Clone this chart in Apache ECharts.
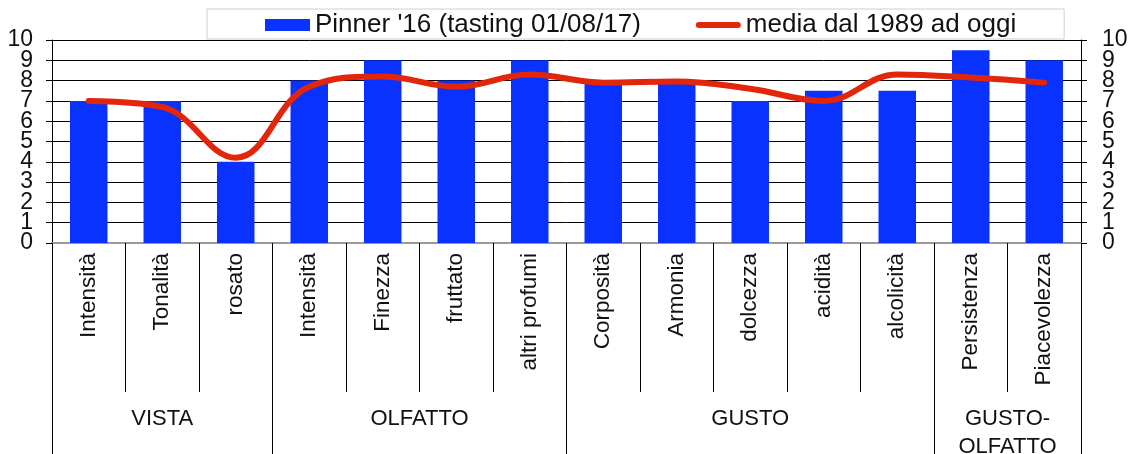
<!DOCTYPE html>
<html>
<head>
<meta charset="utf-8">
<script src="https://cdn.jsdelivr.net/npm/echarts@6/dist/echarts.min.js"></script>
<style>
  html, body { margin: 0; padding: 0; background: #fff; }
  #chart { width: 1128px; height: 454px; }
</style>
</head>
<body>
<div id="chart"></div>
<script>
const categories = ['Intensità', 'Tonalità', 'rosato', 'Intensità', 'Finezza', 'fruttato', 'altri profumi',
  'Corposità', 'Armonia', 'dolcezza', 'acidità', 'alcolicità', 'Persistenza', 'Piacevolezza'];
const groupNames = ['VISTA', 'OLFATTO', 'GUSTO', 'GUSTO-\nOLFATTO'];
const groupSizes = [3, 4, 5, 2];
const barValues = [7, 7, 4, 8, 9, 8, 9, 8, 8, 7, 7.5, 7.5, 9.5, 9];
const avgValues = [7.0, 6.7, 4.2, 7.7, 8.2, 7.7, 8.3, 7.9, 7.95, 7.6, 7.0, 8.3, 8.15, 7.9];
const yTicks = [0, 1, 2, 3, 4, 5, 6, 7, 8, 9, 10];
const barName = "Pinner '16 (tasting 01/08/17)";
const lineName = 'media dal 1989 ad oggi';

// group boundaries and centres (in category units)
const groupBounds = [0];
groupSizes.forEach(s => groupBounds.push(groupBounds[groupBounds.length - 1] + s));
const groupCenters = groupSizes.map((s, i) => groupBounds[i] + s / 2);

const FONT = 'Liberation Sans, Arial, sans-serif';
const chart = echarts.init(document.getElementById('chart'), null, { renderer: 'canvas' });

// Tick labels are split over two overlapping axes per side (even / odd values),
// so that ECharts does not drop the labels that touch each other.
function yAxisDef(side, parity, primary) {
  return {
    type: 'value', position: side,
    min: yTicks[0], max: yTicks[yTicks.length - 1], interval: 1,
    axisLine: { show: primary, lineStyle: { color: '#000', width: 1 } },
    axisTick: { show: primary, length: 6, lineStyle: { color: '#000' } },
    splitLine: { show: primary && side === 'left', lineStyle: { color: '#000', width: 1 } },
    axisLabel: {
      margin: side === 'left' ? 19 : 21,
      fontSize: 23, color: '#111', fontFamily: FONT,
      showMinLabel: true, showMaxLabel: true,
      formatter: function (v) {
        return yTicks.indexOf(v) >= 0 && Math.round(v) % 2 === parity ? String(v) : '';
      }
    }
  };
}

chart.setOption({
  animation: false,
  backgroundColor: '#fff',
  grid: { left: 52, right: 47, top: 40, bottom: 211, containLabel: false, outerBoundsMode: 'none' },
  legend: {
    left: 207, top: 9,
    padding: [3, 48, 1, 58],
    backgroundColor: '#fff',
    borderColor: '#cfcfcf', borderWidth: 1,
    itemGap: 55, itemWidth: 45, itemHeight: 12,
    textStyle: { fontSize: 26, color: '#111', fontFamily: FONT },
    data: [
      { name: barName, icon: 'rect' },
      { name: lineName, icon: 'path://M3,0 L42,0 A3,3 0 0 1 42,6 L3,6 A3,3 0 0 1 3,0 Z', itemStyle: { color: '#e2260a' } }
    ]
  },
  xAxis: [
    {
      type: 'category', data: categories, position: 'bottom',
      axisLine: { show: true, lineStyle: { color: '#000', width: 1 } },
      axisTick: { show: true, interval: 0, length: 149, lineStyle: { color: '#000' } },
      axisLabel: { interval: 0, rotate: 90, margin: 10, fontSize: 22.5, color: '#111', fontFamily: FONT },
      splitLine: { show: false }
    },
    {
      type: 'value', min: 0, max: categories.length, position: 'bottom', offset: 0,
      axisLine: { show: false },
      axisTick: { show: true, customValues: groupBounds, length: 215, lineStyle: { color: '#000' } },
      axisLabel: {
        customValues: groupCenters, margin: 162, fontSize: 22, lineHeight: 28,
        color: '#111', fontFamily: FONT, verticalAlign: 'top', align: 'center',
        formatter: function (v) {
          const i = groupCenters.indexOf(v);
          return i >= 0 ? groupNames[i] : '';
        }
      },
      splitLine: { show: false }
    },
    {
      type: 'category', data: categories, position: 'top',
      axisLine: { show: true, lineStyle: { color: '#9a9a9a', width: 2 } },
      axisTick: { show: false }, axisLabel: { show: false }, splitLine: { show: false }
    }
  ],
  yAxis: [
    yAxisDef('left', 0, true),
    yAxisDef('right', 0, true),
    yAxisDef('left', 1, false),
    yAxisDef('right', 1, false)
  ],
  series: [
    {
      name: barName, type: 'bar', data: barValues, xAxisIndex: 0, yAxisIndex: 0,
      barWidth: '51%',
      itemStyle: { color: '#0a32ff' }
    },
    {
      name: lineName, type: 'line', data: avgValues, xAxisIndex: 0, yAxisIndex: 1,
      smooth: 0.4, symbol: 'none',
      lineStyle: { color: '#e2260a', width: 6, cap: 'round', join: 'round' },
      itemStyle: { color: '#e2260a' }
    }
  ]
});
</script>
</body>
</html>
